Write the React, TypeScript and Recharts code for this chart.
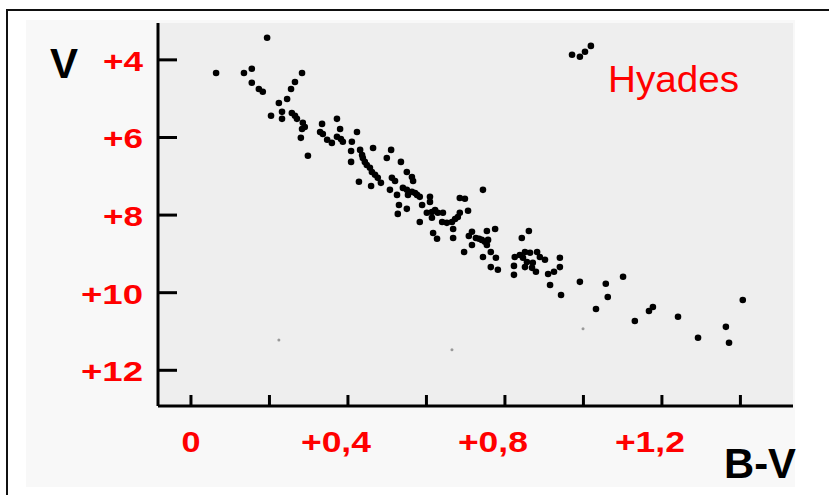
import React from "react";
import { ScatterChart, Scatter, XAxis, YAxis, CartesianGrid } from "recharts";

const bvMain = [0.194,0.064,0.135,0.155,0.155,0.173,0.183,0.283,0.265,0.255,
0.245,0.224,0.204,0.232,0.232,0.257,0.265,0.270,0.285,0.290,
0.283,0.280,0.298,0.334,0.329,0.336,0.347,0.359,0.372,0.380,
0.372,0.382,0.387,0.410,0.423,0.408,0.408,0.431,0.436,0.438,
0.443,0.448,0.456,0.461,0.469,0.476,0.464,0.499,0.510,0.428,
0.459,0.484,0.535,0.550,0.563,0.566,0.512,0.520,0.507,0.525,
0.540,0.550,0.553,0.563,0.571,0.576,0.583,0.609,0.609,0.589,
0.530,0.550,0.527,0.601,0.614,0.622,0.629,0.642,0.614,0.583,
0.640,0.652,0.665,0.673,0.680,0.685,0.698,0.706,0.685,0.744,
0.668,0.668,0.617,0.627,0.716,0.708,0.726,0.734,0.741,0.749,
0.754,0.757,0.754,0.775,0.716,0.696,0.744,0.764,0.777,0.764,
0.782,0.861,0.843,0.825,0.838,0.846,0.851,0.856,0.864,0.871,
0.882,0.889,0.902,0.851,0.869,0.823,0.823,0.879,0.910,0.925,
0.940,0.940,0.915,0.943,0.991,1.057,1.062,1.101,1.032,1.131,
1.167,1.177,1.241,1.292,1.406,1.363,1.371,0.971,0.991,1.004,1.019];

const vMain = [3.43,4.34,4.34,4.23,4.59,4.75,4.82,4.34,4.57,4.75,
5.01,5.11,5.44,5.34,5.52,5.37,5.44,5.52,5.62,5.73,
5.78,6.01,6.47,5.65,5.86,5.91,6.06,6.14,5.52,5.78,
5.98,6.04,6.11,6.11,5.86,6.35,6.63,6.32,6.45,6.53,
6.63,6.71,6.78,6.89,6.96,7.04,6.27,6.53,6.32,7.14,
7.25,7.17,6.63,6.89,7.02,7.12,7.04,7.12,7.35,7.48,
7.30,7.35,7.48,7.40,7.43,7.48,7.53,7.53,7.66,7.74,
7.74,7.84,7.97,7.94,7.92,7.87,7.94,7.94,8.07,8.18,
8.18,8.20,8.18,8.10,8.05,7.56,7.58,7.89,7.94,7.35,
8.36,8.59,8.46,8.61,8.43,8.54,8.59,8.61,8.64,8.69,
8.77,8.64,8.41,8.36,8.77,8.95,9.08,8.95,9.10,9.34,
9.41,8.41,8.59,9.08,9.03,9.10,8.95,9.21,8.97,9.23,
8.95,9.08,9.15,9.34,9.36,9.31,9.54,9.46,9.52,9.46,
9.10,9.34,9.80,10.06,9.72,9.77,10.11,9.59,10.42,10.73,
10.47,10.37,10.62,11.16,10.19,10.88,11.29,3.87,3.92,3.79,3.64];

const bvFaint = [0.224, 0.665, 0.999];
const vFaint = [11.22, 11.47, 10.93];

const xTicks = [0, 0.2, 0.4, 0.6, 0.8, 1.0, 1.2, 1.4];
const xTickLabels = ["0", "", "+0,4", "", "+0,8", "", "+1,2", ""];
const yTicks = [4, 6, 8, 10, 12];
const yTickLabels = ["+4", "+6", "+8", "+10", "+12"];

const mainData = bvMain.map((x, i) => ({ x, y: vMain[i] }));
const faintData = bvFaint.map((x, i) => ({ x, y: vFaint[i] }));

const RED = "#ff0000";
const FONT = "'Liberation Sans', Arial, sans-serif";

const XTick = (props: any) => {
  const { x, y, index } = props;
  const label = xTickLabels[index] ?? "";
  const w = label.length === 1 ? 19 : 70;
  const lx = label.length === 1 ? x : x - 12;
  return (
    <g>
      <line x1={x} y1={y} x2={x} y2={y - 11} stroke="#000" strokeWidth={3} />
      {label && (
        <text x={lx} y={y + 46} textAnchor="middle" fill={RED} fontSize={30} fontWeight="bold" fontFamily={FONT}
          textLength={w} lengthAdjust="spacingAndGlyphs">{label}</text>
      )}
    </g>
  );
};

const YTick = (props: any) => {
  const { x, y, index } = props;
  const label = yTickLabels[index] ?? "";
  const w = label.length === 2 ? 40 : 62;
  return (
    <g>
      <line x1={x} y1={y} x2={x + 19} y2={y} stroke="#000" strokeWidth={3} />
      <text x={x - 15} y={y + 11} textAnchor="end" fill={RED} fontSize={28} fontWeight="bold" fontFamily={FONT}
        textLength={w} lengthAdjust="spacingAndGlyphs">{label}</text>
    </g>
  );
};

const Dot = (p: any) => <circle cx={p.cx} cy={p.cy} r={3.3} fill="#000" />;
const FaintDot = (p: any) => <circle cx={p.cx} cy={p.cy} r={1.5} fill="#999" />;

export default function App() {
  return (
    <div style={{ position: "absolute", left: 0, top: 0, width: 829, height: 495, background: "#fff", overflow: "hidden" }}>
      <div style={{ position: "absolute", left: 6, top: 9, width: 840, height: 500, borderTop: "2px solid #111", borderLeft: "2px solid #111" }} />
      <div style={{ position: "absolute", left: 26, top: 20, width: 769, height: 467, background: "#f8f8f8" }} />
      <div style={{ position: "absolute", left: 0, top: 0 }}>
        <ScatterChart width={829} height={495} margin={{ top: 23, right: 36, bottom: 0, left: 0 }}>
          <CartesianGrid fill="#eeeeee" stroke="none" />
          <XAxis type="number" dataKey="x" domain={[-0.084, 1.534]} ticks={xTicks} interval={0}
            allowDataOverflow height={89} tickSize={0} tickMargin={0} tickLine={false}
            axisLine={{ stroke: "#000", strokeWidth: 3 }} tick={<XTick />} />
          <YAxis type="number" dataKey="y" domain={[3.05, 12.92]} reversed ticks={yTicks} interval={0}
            allowDataOverflow width={158} tickSize={0} tickMargin={0} tickLine={false}
            axisLine={{ stroke: "#000", strokeWidth: 3 }} tick={<YTick />} />
          <Scatter data={faintData} shape={<FaintDot />} isAnimationActive={false} />
          <Scatter data={mainData} shape={<Dot />} isAnimationActive={false} />
        </ScatterChart>
      </div>
      <svg width={829} height={495} style={{ position: "absolute", left: 0, top: 0, pointerEvents: "none" }}>
        <text x={50} y={78} fontSize={42} fontWeight="bold" fontFamily={FONT} fill="#000">V</text>
        <text x={724} y={478} fontSize={42} fontWeight="bold" fontFamily={FONT} fill="#000"
          textLength={72} lengthAdjust="spacingAndGlyphs">B-V</text>
        <text x={608} y={92} fontSize={36} fontFamily={FONT} fill={RED}
          textLength={131} lengthAdjust="spacingAndGlyphs">Hyades</text>
      </svg>
    </div>
  );
}
